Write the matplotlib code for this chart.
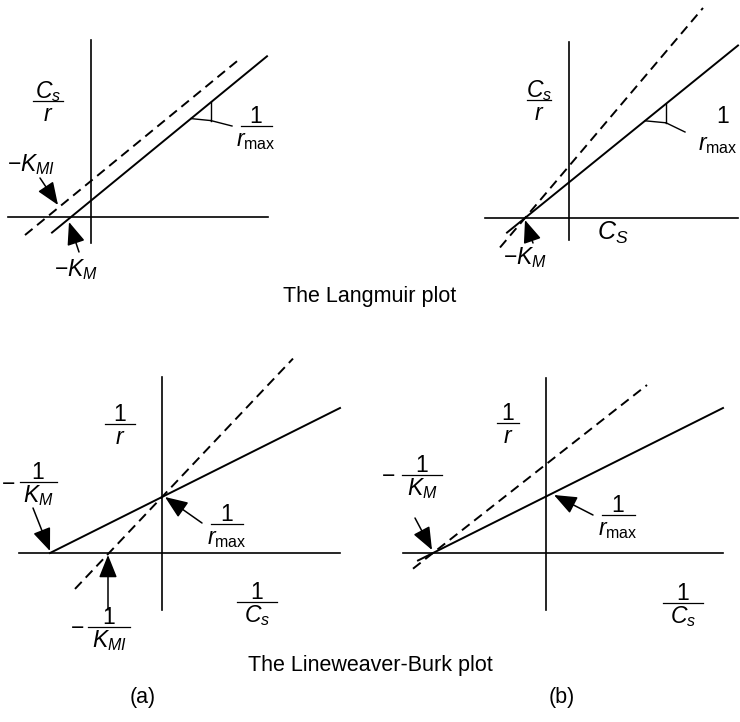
import matplotlib
matplotlib.use("Agg")
import matplotlib.pyplot as plt
import numpy as np

plt.rcParams['font.family'] = ['Liberation Sans', 'DejaVu Sans']
plt.rcParams['mathtext.fontset'] = 'custom'
plt.rcParams['mathtext.rm'] = 'Liberation Sans'
plt.rcParams['mathtext.it'] = 'Liberation Sans:italic'
plt.rcParams['mathtext.bf'] = 'Liberation Sans:bold'

W, H = 740, 722

# schematic values (one unit = one pixel of the reference)
# Langmuir (a): parallel lines, C_s/r = (C_s + K)/r_max
lang_a_K = [20, 44]            # K_M (solid), K_MI (dashed)
lang_a_slope = [0.82, 0.82]
lang_a_xrange = [(-39, 176), (-66, 146)]
# Langmuir (b): common x-intercept, different slopes
lang_b_K = [44, 44]
lang_b_slope = [0.81, 1.18]
lang_b_xrange = [(-62, 169), (-69, 134)]
# Lineweaver-Burk (a): common y-intercept
lb_a_invK = [112, 53]          # 1/K_M (solid), 1/K_MI (dashed)
lb_a_intercept = [56, 56]
lb_a_xrange = [(-112, 178), (-87, 131)]
# Lineweaver-Burk (b): common x-intercept
lb_b_invK = [113, 113]
lb_b_slope = [0.5, 0.785]
lb_b_xrange = [(-128, 177), (-133, 101)]

fig = plt.figure(figsize=(W / 100, H / 100), dpi=100)
fs = 16.5


def panel(ox, oy, xaxis, yaxis):
    ax = fig.add_axes([0, 0, 1, 1])
    ax.set_xlim(-ox, W - ox)
    ax.set_ylim(-(H - oy), oy)
    ax.axis('off')
    ax.patch.set_visible(False)
    ax.plot(xaxis, [0, 0], color='black', lw=1.2)
    ax.plot([0, 0], yaxis, color='black', lw=1.2)
    return ax


def line(ax, x0, slope, xr, dashed):
    xs = np.array(xr, dtype=float)
    ys = slope * (xs - x0)
    if dashed:
        ax.plot(xs, ys, color='black', lw=1.4, linestyle=(0, (5, 3)))
    else:
        ax.plot(xs, ys, color='black', lw=1.4)


def arrow(ax, tail, tip):
    ax.annotate('', xy=tip, xytext=tail,
                arrowprops=dict(arrowstyle='-|>,head_length=0.7,head_width=0.28',
                                mutation_scale=20, color='black', lw=1.1,
                                shrinkA=0, shrinkB=0))


def slope_mark(ax, x0, slope, xa, xb, label_pos):
    ya = slope * (xa - x0)
    yb = slope * (xb - x0)
    ax.plot([xa, xb], [ya, ya - 2], color='black', lw=1.0)
    ax.plot([xb, xb], [ya - 2, yb], color='black', lw=1.0)
    ax.plot([xb, label_pos[0]], [ya - 2, label_pos[1]], color='black', lw=1.0)


def frac(ax, x, y, num, den, width, minus_x=None):
    ax.text(x, y + 3, num, fontsize=fs, ha='center', va='baseline')
    ax.text(x, y - 20, den, fontsize=fs, ha='center', va='baseline')
    ax.plot([x - width / 2, x + width / 2], [y, y], color='black', lw=0.9)
    if minus_x is not None:
        ax.text(minus_x, y - 6.5, r'$-$', fontsize=fs, ha='center', va='baseline')


# ---- Langmuir (a)
ax = panel(91, 217, [-83, 177], [-26, 177])
for k, s, xr, d in zip(lang_a_K, lang_a_slope, lang_a_xrange, [False, True]):
    line(ax, -k, s, xr, d)
slope_mark(ax, -lang_a_K[0], lang_a_slope[0], 100, 120, (141, 91))
frac(ax, -43, 116, r'$C_s$', r'$r$', 30)
frac(ax, 165, 91, r'$1$', r'$r_{\mathrm{max}}$', 31)
ax.text(-60, 52, r'$-K_{MI}$', fontsize=fs, ha='center', va='center')
ax.text(-15, -53, r'$-K_M$', fontsize=fs, ha='center', va='center')
arrow(ax, (-51, 39), (-33, 12))
arrow(ax, (-12, -35), (-22, -5))

# ---- Langmuir (b)
ax = panel(569, 218, [-84, 169], [-22, 176])
for k, s, xr, d in zip(lang_b_K, lang_b_slope, lang_b_xrange, [False, True]):
    line(ax, -k, s, xr, d)
slope_mark(ax, -lang_b_K[0], lang_b_slope[0], 76, 97, (116, 86))
frac(ax, -30, 118, r'$C_s$', r'$r$', 24)
ax.text(154, 95, r'$1$', fontsize=fs, ha='center', va='baseline')
ax.text(149, 68, r'$r_{\mathrm{max}}$', fontsize=fs, ha='center', va='baseline')
ax.text(44, -15, r'$C_S$', fontsize=fs + 1.5, ha='center', va='center')
ax.text(-44, -40, r'$-K_M$', fontsize=fs, ha='center', va='center')
arrow(ax, (-36, -25), (-44, -2))

# ---- Lineweaver-Burk (a)
ax = panel(162, 553, [-143, 178], [-57, 176])
for ik, b, xr, d in zip(lb_a_invK, lb_a_intercept, lb_a_xrange, [False, True]):
    line(ax, -ik, b / ik, xr, d)
frac(ax, -42, 129, r'$1$', r'$r$', 30)
frac(ax, -124, 71, r'$1$', r'$K_M$', 37, minus_x=-154)
frac(ax, 65, 29, r'$1$', r'$r_{\mathrm{max}}$', 32)
frac(ax, -53, -74, r'$1$', r'$K_{MI}$', 42, minus_x=-85)
frac(ax, 95, -49, r'$1$', r'$C_s$', 40)
arrow(ax, (-129, 45), (-112, 2))
arrow(ax, (40, 30), (3, 56))
arrow(ax, (-54, -57), (-54, -2))

# ---- Lineweaver-Burk (b)
ax = panel(546, 553, [-143, 177], [-57, 175])
for ik, s, xr, d in zip(lb_b_invK, lb_b_slope, lb_b_xrange, [False, True]):
    line(ax, -ik, s, xr, d)
frac(ax, -38, 130, r'$1$', r'$r$', 22)
frac(ax, -124, 78, r'$1$', r'$K_M$', 40, minus_x=-158)
frac(ax, 72, 38, r'$1$', r'$r_{\mathrm{max}}$', 33)
frac(ax, 137, -50, r'$1$', r'$C_s$', 40)
arrow(ax, (-131, 35), (-114, 3))
arrow(ax, (47, 38), (8, 58))

# captions
cap = 15.5
fig.text(370 / W, 1 - 297 / H, 'The Langmuir plot', fontsize=cap, ha='center', va='center')
fig.text(370 / W, 1 - 665 / H, 'The Lineweaver-Burk plot', fontsize=cap, ha='center', va='center')
fig.text(143 / W, 1 - 697 / H, '(a)', fontsize=cap, ha='center', va='center')
fig.text(562 / W, 1 - 697 / H, '(b)', fontsize=cap, ha='center', va='center')

fig.savefig('out.png', dpi=100)
